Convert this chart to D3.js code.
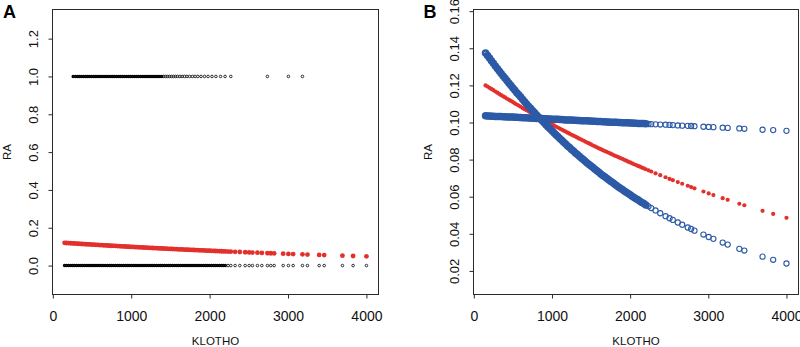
<!DOCTYPE html>
<html>
<head>
<meta charset="utf-8">
<script src="https://cdn.jsdelivr.net/npm/d3@7"></script>
<style>
  body { margin: 0; background: #fff; }
  svg { display: block; font-family: "Liberation Sans", Arial, sans-serif; }
</style>
</head>
<body>
<svg id="chart" width="800" height="347"></svg>
<script>
// KLOTHO values of the observations (dense part, then the sparse tail)
const klotho = [
  150, 175, 200, 225, 250, 275, 300, 325, 350, 375,
  400, 425, 450, 475, 500, 525, 550, 575, 600, 625,
  650, 675, 700, 725, 750, 775, 800, 825, 850, 875,
  900, 925, 950, 975, 1000, 1025, 1050, 1075, 1100, 1125,
  1150, 1175, 1200, 1225, 1250, 1275, 1300, 1325, 1350, 1375,
  1400, 1425, 1450, 1475, 1500, 1525, 1550, 1575, 1600, 1625,
  1650, 1675, 1700, 1725, 1750, 1775, 1800, 1825, 1850, 1875,
  1900, 1925, 1950, 1975, 2000, 2025, 2050, 2075, 2100, 2125,
  2150, 2175, 2200,
  2235, 2270, 2325, 2385, 2453, 2504, 2546, 2610, 2666, 2737, 2780,
  2823, 2938, 3005, 3065, 3184, 3248, 3397, 3461, 3694, 3830, 4000
];

// predicted RA (red)
const predRA = [
  .1200, .1194, .1187, .1181, .1174, .1167, .1161, .1154, .1147, .1141,
  .1135, .1128, .1122, .1116, .1110, .1103, .1097, .1091, .1085, .1078,
  .1072, .1066, .1060, .1054, .1048, .1042, .1036, .1030, .1024, .1018,
  .1013, .1007, .1001, .0995, .0990, .0984, .0978, .0973, .0967, .0962,
  .0956, .0951, .0945, .0940, .0934, .0929, .0924, .0918, .0913, .0908,
  .0903, .0897, .0892, .0887, .0882, .0876, .0871, .0866, .0861, .0856,
  .0851, .0846, .0842, .0837, .0832, .0827, .0822, .0818, .0813, .0808,
  .0804, .0799, .0794, .0789, .0785, .0780, .0775, .0771, .0766, .0762,
  .0757, .0753, .0748,
  .0742, .0736, .0726, .0716, .0705, .0696, .0689, .0679, .0670, .0659, .0652,
  .0645, .0628, .0618, .0609, .0592, .0583, .0562, .0554, .0524, .0507, .0486
];

// blue, steep curve
const fitSteep = [
  .1375, .1361, .1347, .1333, .1319, .1305, .1291, .1278, .1264, .1251,
  .1238, .1225, .1212, .1199, .1186, .1174, .1161, .1149, .1137, .1124,
  .1112, .1100, .1088, .1077, .1065, .1054, .1042, .1031, .1020, .1009,
  .0998, .0987, .0976, .0966, .0955, .0945, .0934, .0924, .0914, .0904,
  .0894, .0884, .0874, .0865, .0855, .0846, .0836, .0827, .0818, .0809,
  .0800, .0791, .0782, .0774, .0765, .0757, .0748, .0740, .0732, .0723,
  .0715, .0707, .0699, .0691, .0683, .0676, .0668, .0661, .0653, .0646,
  .0639, .0631, .0624, .0617, .0610, .0603, .0596, .0589, .0583, .0576,
  .0569, .0563, .0556,
  .0548, .0539, .0526, .0511, .0495, .0484, .0475, .0461, .0449, .0434, .0426,
  .0417, .0396, .0383, .0373, .0353, .0342, .0319, .0310, .0277, .0260, .0240
];

// blue, flat curve
const fitFlat = [
  .1036, .1035, .1035, .1034, .1034, .1033, .1033, .1032, .1032, .1031,
  .1031, .1030, .1030, .1029, .1029, .1028, .1028, .1027, .1027, .1026,
  .1026, .1025, .1024, .1024, .1023, .1023, .1022, .1022, .1021, .1021,
  .1020, .1020, .1019, .1019, .1018, .1018, .1017, .1017, .1016, .1016,
  .1015, .1014, .1014, .1013, .1013, .1012, .1012, .1011, .1011, .1010,
  .1010, .1009, .1009, .1008, .1008, .1007, .1007, .1006, .1006, .1005,
  .1004, .1004, .1003, .1003, .1002, .1002, .1001, .1001, .1000, .1000,
  .0999, .0999, .0998, .0998, .0997, .0997, .0996, .0996, .0995, .0995,
  .0994, .0994, .0993,
  .0992, .0991, .0990, .0989, .0988, .0987, .0986, .0984, .0983, .0982, .0981,
  .0980, .0977, .0976, .0975, .0972, .0971, .0968, .0966, .0961, .0959, .0955
];

// KLOTHO values of the cases with RA = 1 (the rest sit at RA = 0)
const klothoRA1 = [
  260, 290, 315, 340, 365, 390, 415, 440, 465, 490,
  515, 540, 565, 590, 615, 640, 665, 690, 715, 740,
  765, 790, 815, 840, 865, 890, 915, 940, 965, 990,
  1015, 1040, 1065, 1090, 1115, 1140, 1165, 1190, 1215, 1240,
  1265, 1290, 1315, 1340, 1365, 1390, 1415, 1440, 1465, 1490,
  1515, 1540, 1565, 1590, 1620, 1650, 1680, 1710, 1745, 1780,
  1815, 1850, 1890, 1935, 1980, 2030, 2080, 2140, 2197, 2270,
  2737, 3005, 3184
];
const klothoRA0 = klotho;

const xTicks = [0, 1000, 2000, 3000, 4000];
const yTicksA = [0, 0.2, 0.4, 0.6, 0.8, 1.0, 1.2];
const yTicksB = [0.02, 0.04, 0.06, 0.08, 0.10, 0.12, 0.14, 0.16];

const red = "#e3302d";
const blue = "#2c5aa6";
const ink = "#2a2a2a";

const svg = d3.select("#chart");

const points = klotho.map((k, i) => ({
  k: k,
  pred: predRA[i],
  steep: fitSteep[i],
  flat: fitFlat[i]
}));

// where the observations pile up, the overlapping rings read as a solid band
const crowded = k => k <= 2200;

function drawFrame(box, x, y, yTicks, yFormat, letter) {
  svg.append("rect")
    .attr("x", box.left)
    .attr("y", box.top)
    .attr("width", box.right - box.left)
    .attr("height", box.bottom - box.top)
    .attr("fill", "none")
    .attr("stroke", ink)
    .attr("stroke-width", 1);

  svg.append("g")
    .attr("transform", `translate(0,${box.bottom})`)
    .call(d3.axisBottom(x).tickValues(xTicks).tickSize(4).tickFormat(d3.format("d")))
    .call(g => g.select(".domain").remove())
    .call(g => g.attr("font-family", null).attr("font-size", null))
    .call(g => g.selectAll("line").attr("stroke", ink))
    .call(g => g.selectAll("text")
      .attr("y", 26)
      .attr("dy", null)
      .attr("fill", "#111")
      .style("font-size", "14px"));

  svg.append("g")
    .attr("transform", `translate(${box.left},0)`)
    .call(d3.axisLeft(y).tickValues(yTicks).tickSize(4).tickFormat(d3.format(yFormat)))
    .call(g => g.select(".domain").remove())
    .call(g => g.attr("font-family", null).attr("font-size", null))
    .call(g => g.selectAll("line").attr("stroke", ink))
    .call(g => g.selectAll("text")
      .attr("x", null)
      .attr("dy", null)
      .attr("text-anchor", "middle")
      .attr("transform", "translate(-15,0) rotate(-90)")
      .attr("fill", "#111")
      .style("font-size", "13px"));

  svg.append("text")
    .attr("x", (box.left + box.right) / 2)
    .attr("y", 345)
    .attr("text-anchor", "middle")
    .style("font-size", "11.5px")
    .attr("fill", "#111")
    .text("KLOTHO");

  svg.append("text")
    .attr("transform", `translate(${box.left - 42},${(box.top + box.bottom) / 2}) rotate(-90)`)
    .attr("text-anchor", "middle")
    .style("font-size", "11.5px")
    .attr("fill", "#111")
    .text("RA");

  svg.append("text")
    .attr("x", box.left - (box.left > 400 ? 50 : 49.5))
    .attr("y", 18)
    .style("font-size", "18px")
    .style("font-weight", "bold")
    .attr("fill", "#000")
    .text(letter);
}

// Panel A
const boxA = { left: 52.5, right: 378.5, top: 9.5, bottom: 294.5 };
const xA = d3.scaleLinear().domain([-4, 4154]).range([boxA.left, boxA.right]);
const yA = d3.scaleLinear().domain([-0.153, 1.354]).range([boxA.bottom, boxA.top]);
drawFrame(boxA, xA, yA, yTicksA, ".1f", "A");

svg.append("g").selectAll("circle")
  .data(klothoRA0)
  .join("circle")
  .attr("cx", d => xA(d))
  .attr("cy", yA(0))
  .attr("r", d => crowded(d) ? 1.0 : 1.3)
  .attr("fill", "none")
  .attr("stroke", "#000")
  .attr("stroke-width", d => crowded(d) ? 1.5 : 0.8);

svg.append("g").selectAll("circle")
  .data(klothoRA1)
  .join("circle")
  .attr("cx", d => xA(d))
  .attr("cy", yA(1))
  .attr("r", d => d <= 1400 ? 1.0 : 1.3)
  .attr("fill", "none")
  .attr("stroke", "#000")
  .attr("stroke-width", d => d <= 1400 ? 1.5 : 0.8);

svg.append("g").selectAll("circle")
  .data(points)
  .join("circle")
  .attr("cx", d => xA(d.k))
  .attr("cy", d => yA(d.pred))
  .attr("r", 2.4)
  .attr("fill", red);

// Panel B
const boxB = { left: 473.5, right: 798.5, top: 9.5, bottom: 294.5 };
const xB = d3.scaleLinear().domain([-4, 4154]).range([boxB.left, boxB.right]);
const yB = d3.scaleLinear().domain([0.0073, 0.1609]).range([boxB.bottom, boxB.top]);
drawFrame(boxB, xB, yB, yTicksB, ".2f", "B");

svg.append("g").selectAll("circle")
  .data(points)
  .join("circle")
  .attr("cx", d => xB(d.k))
  .attr("cy", d => yB(d.pred))
  .attr("r", 2.1)
  .attr("fill", red);

["flat", "steep"].forEach(key => {
  svg.append("g").selectAll("circle")
    .data(points)
    .join("circle")
    .attr("cx", d => xB(d.k))
    .attr("cy", d => yB(d[key]))
    .attr("r", d => crowded(d.k) ? 2.5 : 2.6)
    .attr("fill", "none")
    .attr("stroke", blue)
    .attr("stroke-width", d => crowded(d.k) ? 2.5 : 1.1);
});
</script>
</body>
</html>
